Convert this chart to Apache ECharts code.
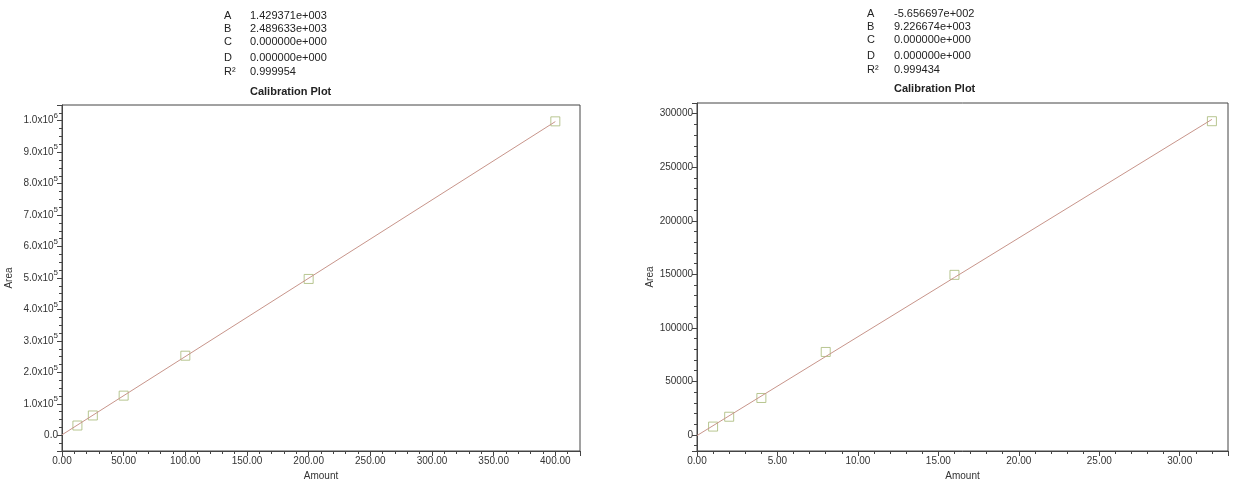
<!DOCTYPE html>
<html><head><meta charset="utf-8">
<script src="https://cdn.jsdelivr.net/npm/echarts@6/dist/echarts.min.js"></script>
<style>html,body{margin:0;padding:0;background:#fff}#c{width:1250px;height:489px}</style>
</head><body><div id="c"></div>
<script>
// ---- data ----
const coefLabels = ['A', 'B', 'C', 'D', 'R²'];
const coefLeft = ['1.429371e+003', '2.489633e+003', '0.000000e+000', '0.000000e+000', '0.999954'];
const coefRight = ['-5.656697e+002', '9.226674e+003', '0.000000e+000', '0.000000e+000', '0.999434'];
const plotTitle = 'Calibration Plot';
const xName = 'Amount';
const yName = 'Area';

const leftPoints = [[12.5, 31000], [25, 63000], [50, 126000], [100, 253000], [200, 497000], [400, 998000]];
const leftFit = [[0, 1429], [400, 997283]];
const rightPoints = [[1, 7800], [2, 17000], [4, 34500], [8, 77500], [16, 149500], [32, 293000]];
const rightFit = [[0, -566], [32, 294688]];

const leftX = { min: 0, max: 420, interval: 50 };
const leftY = { min: -50000, max: 1050000 };
const rightX = { min: 0, max: 33, interval: 5 };
const rightY = { min: -15000, max: 310000 };

// ---- chart ----
const chart = echarts.init(document.getElementById('c'));
const FONT = 'Liberation Sans, Arial, sans-serif';
const axisCol = '#444';
const labelCol = '#333';

function sciFmt(v) {
  if (v === 0) return '0.0';
  if (v % 100000 !== 0) return '';
  const e = Math.floor(Math.log10(v) + 1e-9);
  const m = v / Math.pow(10, e);
  return '{b|' + m.toFixed(1) + 'x10}{s|' + e + '}';
}

function xAxis(idx, cfg) {
  return {
    type: 'value', gridIndex: idx, min: cfg.min, max: cfg.max, interval: cfg.interval,
    name: xName, nameLocation: 'middle', nameGap: 19,
    nameTextStyle: { color: labelCol, fontSize: 10, fontFamily: FONT },
    axisLine: { show: true, onZero: false, lineStyle: { color: axisCol, width: 1 } },
    axisTick: { show: true, length: 5, lineStyle: { color: axisCol } },
    minorTick: { show: true, splitNumber: 5, length: 3, lineStyle: { color: axisCol } },
    splitLine: { show: false },
    axisLabel: { color: labelCol, fontSize: 10, fontFamily: FONT, margin: 5,
      showMaxLabel: false,
      formatter: v => (Math.abs(v / cfg.interval - Math.round(v / cfg.interval)) < 1e-9 ? v.toFixed(2) : '') }
  };
}

function yAxis(idx, cfg, fmt, split, minorSplit, nameGap) {
  return {
    type: 'value', gridIndex: idx, min: cfg.min, max: cfg.max, splitNumber: split,
    name: yName, nameLocation: 'middle', nameGap: nameGap, nameRotate: 90,
    nameTextStyle: { color: labelCol, fontSize: 10, fontFamily: FONT },
    axisLine: { show: true, onZero: false, lineStyle: { color: axisCol, width: 1 } },
    axisTick: { show: true, length: 5, lineStyle: { color: axisCol } },
    minorTick: { show: true, splitNumber: minorSplit, length: 3, lineStyle: { color: axisCol } },
    splitLine: { show: false },
    axisLabel: {
      color: labelCol, fontSize: 10, fontFamily: FONT, margin: 4,
      showMinLabel: false, showMaxLabel: false,
      formatter: fmt,
      rich: {
        b: { color: labelCol, fontSize: 10, fontFamily: FONT },
        s: { color: labelCol, fontSize: 8, fontFamily: FONT, padding: [0, 0, 10, 0] }
      }
    }
  };
}

function textBlock(xLabel, xVal, yTop, vals, titleY) {
  const els = [];
  const rowY = [0, 13, 26, 42, 56];
  coefLabels.forEach((l, i) => {
    els.push({ type: 'text', left: xLabel, top: yTop + rowY[i],
      style: { text: l, fill: '#222', font: '11px ' + FONT } });
    els.push({ type: 'text', left: xVal, top: yTop + rowY[i],
      style: { text: vals[i], fill: '#222', font: '11px ' + FONT } });
  });
  els.push({ type: 'text', left: xVal, top: titleY,
    style: { text: plotTitle, fill: '#222', font: 'bold 11px ' + FONT } });
  return els;
}

const pointStyle = { color: 'rgba(0,0,0,0)', borderColor: '#a6b876', borderWidth: 1 };
const lineStyle = { color: '#c8958b', width: 1 };

chart.setOption({
  backgroundColor: '#fff',
  animation: false,
  grid: [
    { left: 62, top: 105, right: 670, bottom: 38, show: true, borderColor: axisCol, borderWidth: 1 },
    { left: 697, top: 103, right: 22, bottom: 38, show: true, borderColor: axisCol, borderWidth: 1 }
  ],
  xAxis: [xAxis(0, leftX), xAxis(1, rightX)],
  yAxis: [
    yAxis(0, leftY, sciFmt, 11, 4, 48),
    yAxis(1, rightY, v => (v % 50000 === 0 ? String(v) : ''), 6, 5, 42)
  ],
  series: [
    { type: 'line', xAxisIndex: 0, yAxisIndex: 0, data: leftFit, showSymbol: false, lineStyle: lineStyle, silent: true },
    { type: 'scatter', xAxisIndex: 0, yAxisIndex: 0, data: leftPoints, symbol: 'rect', symbolSize: 9, itemStyle: pointStyle },
    { type: 'line', xAxisIndex: 1, yAxisIndex: 1, data: rightFit, showSymbol: false, lineStyle: lineStyle, silent: true },
    { type: 'scatter', xAxisIndex: 1, yAxisIndex: 1, data: rightPoints, symbol: 'rect', symbolSize: 9, itemStyle: pointStyle }
  ],
  graphic: textBlock(224, 250, 10, coefLeft, 86).concat(textBlock(867, 894, 8, coefRight, 83))
});
</script></body></html>
